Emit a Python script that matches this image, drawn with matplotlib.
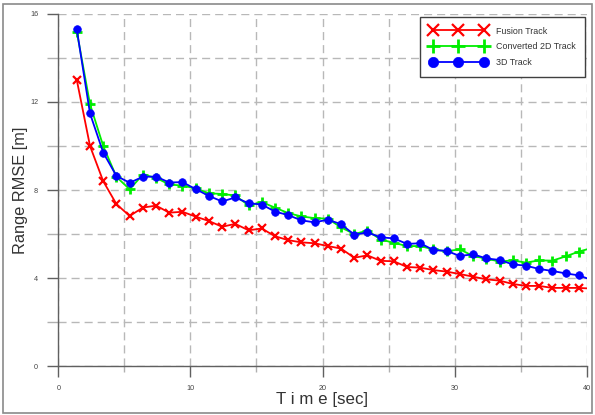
import matplotlib
matplotlib.use("Agg")
import matplotlib.pyplot as plt
from matplotlib.patches import Rectangle
from matplotlib.ticker import MultipleLocator

plt.rcParams['font.family'] = ['Liberation Sans', 'DejaVu Sans']

time = [1.4, 2.4, 3.4, 4.4, 5.4, 6.4, 7.4, 8.4, 9.4, 10.4,
        11.4, 12.4, 13.4, 14.4, 15.4, 16.4, 17.4, 18.4, 19.4, 20.4,
        21.4, 22.4, 23.4, 24.4, 25.4, 26.4, 27.4, 28.4, 29.4, 30.4,
        31.4, 32.4, 33.4, 34.4, 35.4, 36.4, 37.4, 38.4, 39.4, 40.0]

fusion = [13.0, 10.0, 8.4, 7.36, 6.82, 7.2, 7.29, 6.97, 7.01, 6.79,
          6.59, 6.33, 6.46, 6.17, 6.25, 5.90, 5.72, 5.62, 5.58, 5.45,
          5.34, 4.92, 5.03, 4.78, 4.76, 4.50, 4.47, 4.36, 4.29, 4.18,
          4.06, 3.94, 3.88, 3.73, 3.64, 3.64, 3.55, 3.55, 3.55, 3.53]

converted = [15.2, 11.9, 10.0, 8.6, 8.03, 8.7, 8.55, 8.25, 8.2, 8.07,
             7.85, 7.82, 7.75, 7.3, 7.45, 7.2, 6.95, 6.8, 6.72, 6.7,
             6.3, 6.0, 6.15, 5.75, 5.6, 5.45, 5.45, 5.3, 5.22, 5.3,
             5.0, 4.88, 4.75, 4.8, 4.7, 4.8, 4.79, 4.98, 5.2, 5.3]

track3d = [15.3, 11.48, 9.70, 8.64, 8.33, 8.60, 8.61, 8.34, 8.36, 8.04,
           7.73, 7.48, 7.66, 7.40, 7.34, 7.02, 6.86, 6.62, 6.53, 6.65,
           6.45, 5.97, 6.07, 5.85, 5.80, 5.55, 5.58, 5.27, 5.23, 5.00,
           5.08, 4.89, 4.82, 4.62, 4.56, 4.41, 4.32, 4.21, 4.12, 3.99]

labels = ["Fusion Track", "Converted 2D Track", "3D Track"]
x_ticks = [0, 10, 20, 30, 40]
y_ticks = [0, 4, 8, 12, 16]

W, H = 595, 415
fig = plt.figure(figsize=(W / 100, H / 100), dpi=100)
ax = fig.add_axes([58.3 / W, 1 - 366 / H, (586.7 - 58.3) / W, (366 - 14) / H])

mk = slice(0, 39)
ax.plot(time, fusion, color='#ff0000', lw=1.3, marker='x', ms=6, mew=1.6,
        markevery=mk, label=labels[0], zorder=3)
ax.plot(time, converted, color='#00ee00', lw=1.3, marker='+', ms=7, mew=2,
        markevery=mk, label=labels[1], zorder=3)
ax.plot(time, track3d, color='#0000ff', lw=1.3, marker='o', ms=5.5, mew=0.5,
        markevery=mk, label=labels[2], zorder=4)

ax.set_xlim(0, 40)
ax.set_ylim(0, 16)
ax.set_xticks(x_ticks)
ax.set_yticks(y_ticks)
ax.xaxis.set_minor_locator(MultipleLocator(5))
ax.yaxis.set_minor_locator(MultipleLocator(2))

ax.grid(True, which='both', color='#b8b8b8', lw=1.0, linestyle=(0, (5.8, 3.6)))
ax.set_axisbelow(True)

for s in ['top', 'right']:
    ax.spines[s].set_visible(False)
for s in ['left', 'bottom']:
    ax.spines[s].set_color('#606060')
    ax.spines[s].set_linewidth(1.0)

ax.tick_params(axis='both', which='major', direction='out', length=8, width=1.0,
               color='#606060', labelsize=5.2, labelcolor='#444444')
ax.tick_params(axis='x', which='major', pad=5.5)
ax.tick_params(axis='y', which='major', pad=6.5)
ax.tick_params(axis='x', which='minor', direction='out', length=4.5, width=1.0,
               color='#b0b0b0')
ax.tick_params(axis='y', which='minor', direction='out', length=8, width=1.0,
               color='#b0b0b0')

ax.set_ylabel("Range RMSE [m]", fontsize=11.8, color='#333333')
ax.yaxis.set_label_coords(-0.057, 0.50)
ax.set_xlabel("T i m e [sec]", fontsize=12.2, color='#333333')
ax.xaxis.set_label_coords(0.499, -0.074)

leg = ax.legend(loc='upper right', bbox_to_anchor=(585 / W, 1 - 17 / H),
                bbox_transform=fig.transFigure, fontsize=6.4, numpoints=3,
                handlelength=6.4, handletextpad=1.0, labelspacing=0.75,
                borderpad=1.08, borderaxespad=0, markerscale=1.35,
                fancybox=False, framealpha=1, edgecolor='#404040')
leg.get_frame().set_linewidth(1.0)
for t in leg.get_texts():
    t.set_color('#333333')

fig.patches.append(Rectangle((3 / W, 2 / H), 589 / W, 409 / H, transform=fig.transFigure,
                             fill=False, edgecolor='#8a8a8a', lw=1.2))

fig.savefig("out.png", dpi=100)
